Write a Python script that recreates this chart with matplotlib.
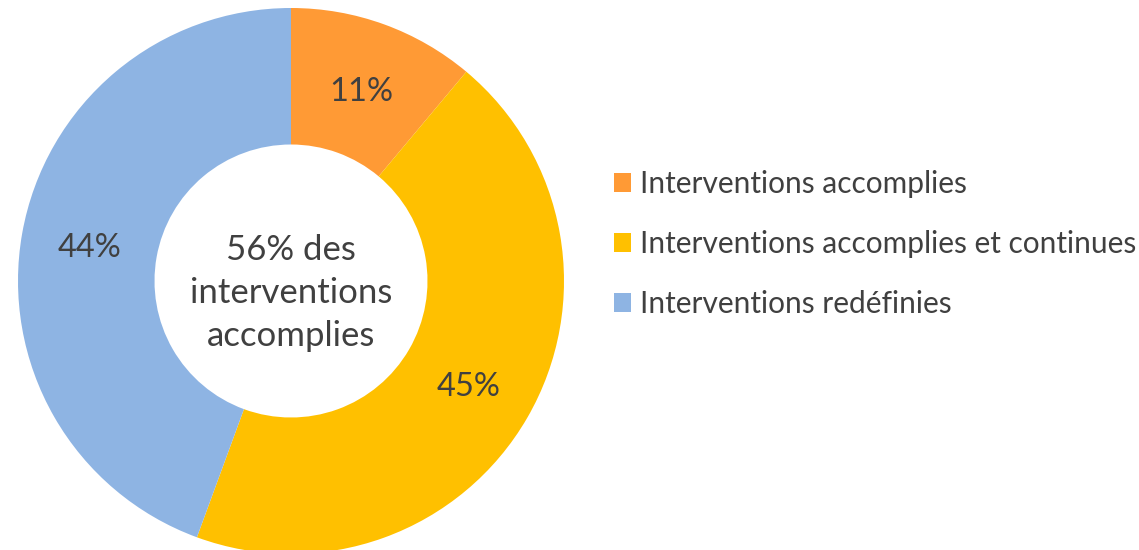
import matplotlib
matplotlib.use("Agg")
import matplotlib.pyplot as plt

categories = ["Interventions accomplies",
              "Interventions accomplies et continues",
              "Interventions redéfinies"]
values = [11.1, 44.5, 44.4]
labels_pct = ["11%", "45%", "44%"]
colors = ["#FF9A35", "#FFC000", "#8EB4E3"]
center_lines = "56% des\ninterventions\naccomplies"

plt.rcParams['font.family'] = ['Lato', 'DejaVu Sans']
text_color = "#404040"

W, H = 1139, 550
fig = plt.figure(figsize=(W / 100, H / 100), dpi=100)

# donut centre ~ (291, 281) px, outer radius ~273 px
cx, cy, r = 291, 281, 273
ax = fig.add_axes([(cx - r) / W, (H - cy - r) / H, 2 * r / W, 2 * r / H])

wedges, texts, autotexts = ax.pie(
    values, colors=colors, startangle=90, counterclock=False,
    radius=1.0, wedgeprops=dict(width=0.5, linewidth=0),
    autopct="%d%%", pctdistance=0.75,
    textprops=dict(color=text_color, fontsize=23.5))
for t, lab in zip(autotexts, labels_pct):
    t.set_text(lab)
    x, y = t.get_position()
    t.set_position((x, y - 0.012))

ax.text(0, -0.045, center_lines, ha="center", va="center",
        fontsize=25, color=text_color, linespacing=1.42)
ax.set_xlim(-1, 1)
ax.set_ylim(-1, 1)
ax.set_aspect("equal")
ax.axis("off")

leg = fig.legend(wedges, categories, loc="center left",
                 bbox_to_anchor=(614 / W, 1 - 244 / H),
                 frameon=False, fontsize=21.5, labelcolor=text_color,
                 handlelength=0.57, handleheight=0.57, handletextpad=0.3,
                 labelspacing=1.07, borderpad=0, borderaxespad=0)

fig.savefig("out.png", dpi=100)
